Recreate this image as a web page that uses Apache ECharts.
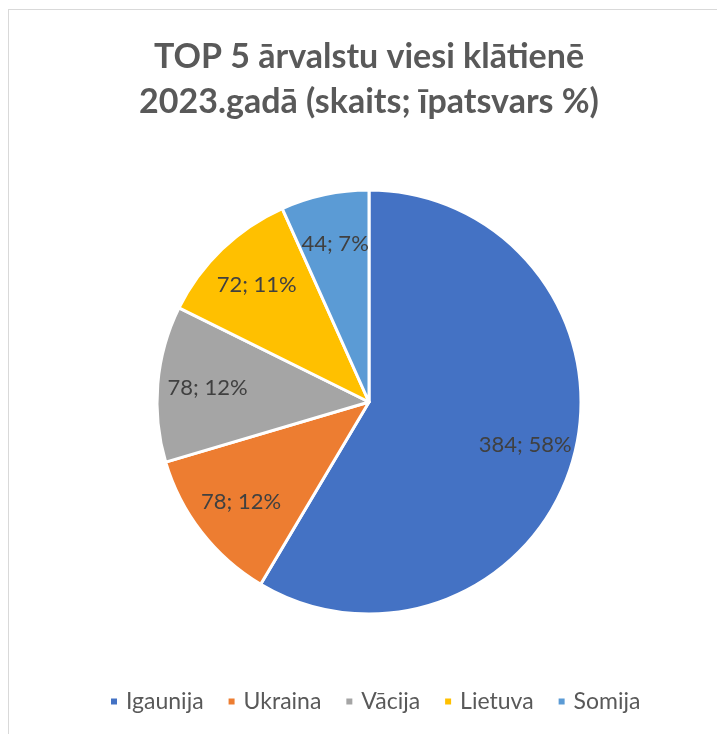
<!DOCTYPE html>
<html>
<head>
<meta charset="utf-8">
<script src="https://cdn.jsdelivr.net/npm/echarts@6/dist/echarts.min.js"></script>
<style>
html,body{margin:0;padding:0;background:#fff;}
#wrap{position:relative;width:717px;height:734px;}
#chart{position:absolute;left:0;top:0;width:717px;height:734px;}
#frame{position:absolute;left:8px;top:9px;right:-2px;bottom:-2px;border:1px solid #d9d9d9;pointer-events:none;}
</style>
</head>
<body>
<div id="wrap"><div id="chart"></div><div id="frame"></div></div>
<script>
const titleLines = ['TOP 5 ārvalstu viesi klātienē', '2023.gadā (skaits; īpatsvars %)'];
const categories = ['Igaunija', 'Ukraina', 'Vācija', 'Lietuva', 'Somija'];
const counts = [384, 78, 78, 72, 44];
const shares = [58, 12, 12, 11, 7];
const colors = ['#4472C4', '#ED7D31', '#A5A5A5', '#FFC000', '#5B9BD5'];

const pieData = categories.map((c, i) => ({ name: c, value: counts[i], share: shares[i] }));

const chart = echarts.init(document.getElementById('chart'), null, { renderer: 'canvas' });
const center = [369, 402];
const R = 212;
chart.setOption({
  animation: false,
  color: colors,
  title: {
    text: titleLines.join('\n'),
    left: 364,
    textAlign: 'center',
    top: 30,
    textStyle: { fontFamily: 'Lato', fontWeight: 'bold', fontSize: 34, color: '#595959', lineHeight: 45 }
  },
  legend: {
    data: categories,
    bottom: 16,
    left: 104,
    icon: 'rect',
    itemWidth: 8,
    itemHeight: 8,
    itemGap: 23,
    textStyle: { fontFamily: 'Lato', fontSize: 23, color: '#595959', padding: [0, 0, 0, 3] }
  },
  series: [
    {
      type: 'pie',
      center: center,
      radius: [0, R],
      startAngle: 90,
      clockwise: true,
      data: pieData,
      itemStyle: { borderColor: '#ffffff', borderWidth: 3 },
      label: { show: false },
      labelLine: { show: false },
      emphasis: { disabled: true }
    },
    {
      type: 'pie',
      center: center,
      radius: [Math.round(R * 0.5), R],
      startAngle: 90,
      clockwise: true,
      silent: true,
      data: pieData,
      itemStyle: { color: 'rgba(0,0,0,0)', borderWidth: 0 },
      label: {
        show: true,
        position: 'inside',
        formatter: p => p.value + '; ' + p.data.share + '%',
        fontFamily: 'Lato',
        fontSize: 22,
        color: '#404040'
      },
      labelLine: { show: false },
      emphasis: { disabled: true }
    }
  ]
});
</script>
</body>
</html>
